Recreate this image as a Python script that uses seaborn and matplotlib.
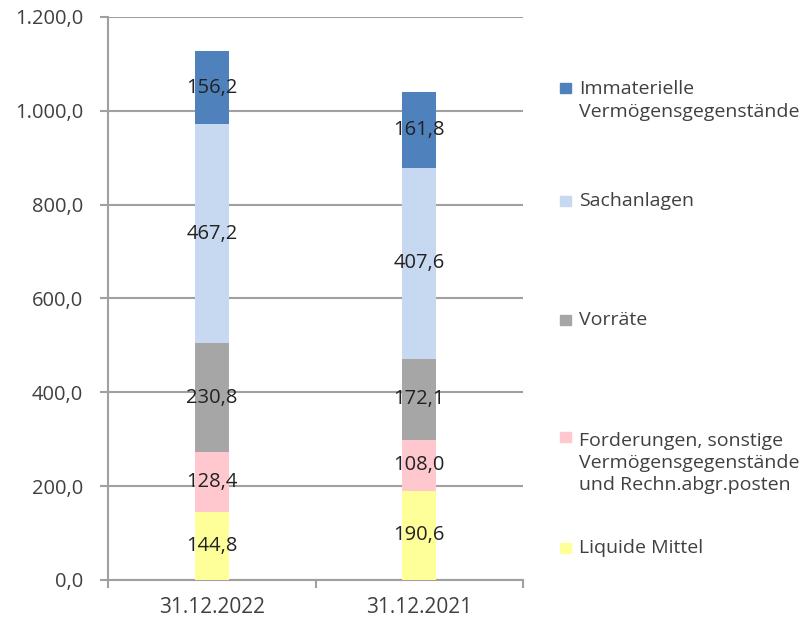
import matplotlib
matplotlib.use("Agg")
from matplotlib import pyplot as plt
from matplotlib.ticker import FuncFormatter
from matplotlib.patches import Rectangle
import seaborn as sns
import numpy as np

# data (bottom segment first)
dates = ["31.12.2022", "31.12.2021"]
liquide = [144.8, 190.6]
forderungen = [128.4, 108.0]
vorraete = [230.8, 172.1]
sachanlagen = [467.2, 407.6]
immaterielle = [156.2, 161.8]

series = [liquide, forderungen, vorraete, sachanlagen, immaterielle]
names = ["Liquide Mittel",
         "Forderungen, sonstige\nVermögensgegenstände\nund Rechn.abgr.posten",
         "Vorräte", "Sachanlagen",
         "Immaterielle\nVermögensgegenstände"]
colors = ["#FFFF99", "#FFC7CE", "#A6A6A6", "#C6D9F1", "#4F81BD"]

sns.set_style("white")
plt.rcParams["font.family"] = ["Open Sans", "DejaVu Sans"]

fig = plt.figure(figsize=(8.07, 6.27), dpi=100)
ax = fig.add_axes([0.134, 0.075, 0.514, 0.898])

bottom = np.zeros(len(dates))
for vals, c in zip(series, colors):
    sns.barplot(x=dates, y=vals, bottom=bottom, color=c, width=0.165,
                saturation=1, ax=ax, zorder=3, linewidth=0)
    for i, v in enumerate(vals):
        ax.text(i, bottom[i] + v / 2, "{:.1f}".format(v).replace(".", ","),
                ha="center", va="center", fontsize=14.5, color="#222222", zorder=4)
    bottom = bottom + np.array(vals)

def de_fmt(v, pos):
    s = "{:,.1f}".format(v)
    return s.replace(",", "X").replace(".", ",").replace("X", ".")

ax.set_ylim(0, 1200)
ax.set_xlim(-0.5, 1.5)
ax.set_yticks(np.arange(0, 1201, 200))
ax.yaxis.set_major_formatter(FuncFormatter(de_fmt))
ax.yaxis.grid(True, color="#A0A0A0", linewidth=1.5, zorder=0)
ax.set_axisbelow(True)
for s in ["top", "right"]:
    ax.spines[s].set_visible(False)
for s in ["left", "bottom"]:
    ax.spines[s].set_color("#A0A0A0")
    ax.spines[s].set_linewidth(1.5)
ax.tick_params(axis="y", length=6, width=1.5, color="#A0A0A0", labelsize=14.5,
               labelcolor="#404040", pad=12, left=True)
ax.set_xticks([-0.5, 0.5, 1.5], minor=True)
ax.tick_params(axis="x", which="major", length=0, labelsize=15,
               labelcolor="#404040", pad=12)
ax.tick_params(axis="x", which="minor", length=6, width=1.5,
               color="#A0A0A0", bottom=True)
ax.set_xlabel("")
ax.set_ylabel("")

# legend, top entry first: (text block centre px, first line centre px)
leg_px = [(100.5, 88), (201, 201), (320, 320), (463, 437), (548, 548)]
for name, c, (ty, py) in zip(names[::-1], colors[::-1], leg_px):
    fig.patches.append(Rectangle((560 / 807, 1 - (py + 5) / 627), 11 / 807, 10 / 627,
                                 transform=fig.transFigure, color=c,
                                 figure=fig))
    fig.text(579 / 807, 1 - ty / 627, name, fontsize=14, color="#404040",
             va="center", linespacing=1.32)

fig.savefig("out.png", dpi=100)
